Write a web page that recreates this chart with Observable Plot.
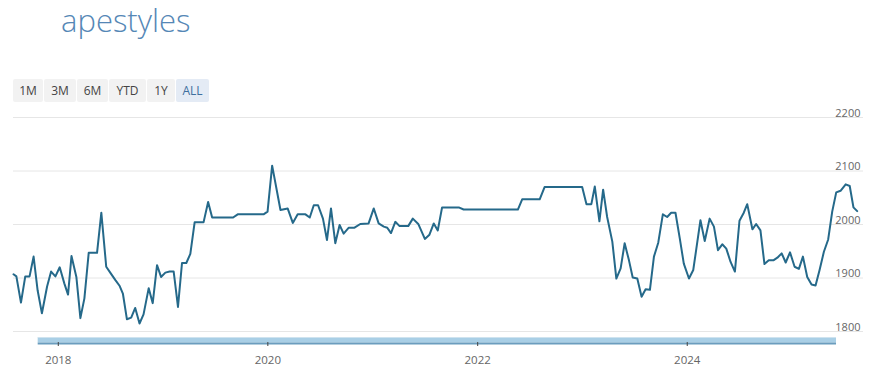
<!DOCTYPE html>
<html><head><meta charset="utf-8">
<script src="https://cdn.jsdelivr.net/npm/d3@7"></script>
<script src="https://cdn.jsdelivr.net/npm/@observablehq/plot@0.6"></script>
<style>
body{margin:0;background:#fff;font-family:"Open Sans",sans-serif;}
#head{position:relative;height:105px;width:880px;}
#title{position:absolute;left:61px;top:-1px;font-size:31px;line-height:42px;font-weight:300;color:#5587b6;white-space:nowrap;}
#btns{position:absolute;left:13px;top:79px;display:flex;}
.btn{height:23px;line-height:23px;font-size:12px;color:#444;background:#f2f2f2;text-align:center;margin-right:1px;border-radius:2px;}
.btn.sel{background:#e4ebf5;color:#3f6f9e;}
#chart svg{display:block;}
</style></head>
<body>
<div id="head">
  <div id="title">apestyles</div>
  <div id="btns"></div>
</div>
<div id="chart"></div>
<script>
const titleText = "apestyles";
const buttonLabels = ["1M","3M","6M","YTD","1Y","ALL"];
const buttonWidths = [30,32,31,37,28,33];
const selectedButton = "ALL";

const dates = [
"2017-07-29","2017-08-08","2017-08-24","2017-09-08","2017-09-23","2017-10-07","2017-10-21","2017-11-05","2017-11-23","2017-12-07",
"2017-12-22","2018-01-06","2018-01-22","2018-02-04","2018-02-16","2018-03-05","2018-03-19","2018-04-02","2018-04-17","2018-05-16",
"2018-05-31","2018-06-17","2018-07-01","2018-07-19","2018-08-03","2018-08-14","2018-08-28","2018-09-12","2018-09-26","2018-10-11",
"2018-10-25","2018-11-12","2018-11-26","2018-12-11","2018-12-25","2019-01-09","2019-01-24","2019-02-07","2019-02-22","2019-03-08",
"2019-03-23","2019-04-06","2019-04-21","2019-05-22","2019-06-07","2019-06-21","2019-09-02","2019-09-18","2019-12-17","2019-12-31",
"2020-01-16","2020-02-14","2020-03-10","2020-03-28","2020-04-14","2020-05-11","2020-05-26","2020-06-09","2020-06-24","2020-07-11",
"2020-07-25","2020-08-08","2020-08-23","2020-09-07","2020-09-21","2020-10-09","2020-10-29","2020-11-18","2020-12-17","2021-01-04",
"2021-01-21","2021-02-08","2021-02-20","2021-03-05","2021-03-20","2021-04-04","2021-05-04","2021-05-20","2021-06-08","2021-07-01",
"2021-07-17","2021-08-01","2021-08-15","2021-08-30","2021-10-27","2021-11-13","2022-05-21","2022-06-05","2022-08-05","2022-08-22",
"2022-12-31","2023-01-15","2023-02-01","2023-02-13","2023-03-01","2023-03-14","2023-03-28","2023-04-15","2023-04-29","2023-05-14",
"2023-05-28","2023-06-12","2023-06-25","2023-07-11","2023-07-26","2023-08-09","2023-08-24","2023-09-07","2023-09-22","2023-10-08",
"2023-10-23","2023-11-06","2023-11-21","2023-12-06","2023-12-20","2024-01-07","2024-01-22","2024-02-16","2024-03-02","2024-03-19",
"2024-04-03","2024-04-17","2024-05-02","2024-05-16","2024-05-31","2024-06-15","2024-07-01","2024-07-16","2024-07-28","2024-08-15",
"2024-08-28","2024-09-12","2024-09-26","2024-10-11","2024-10-27","2024-11-10","2024-11-25","2024-12-09","2024-12-24","2025-01-09",
"2025-01-24","2025-02-07","2025-02-22","2025-03-09","2025-03-23","2025-04-06","2025-04-21","2025-05-06","2025-05-20","2025-06-03",
"2025-06-18","2025-07-06","2025-07-20","2025-08-02","2025-08-15"
];
const values = [
1907,1903,1854,1903,1903,1940,1877,1834,1884,1912,
1903,1920,1890,1869,1941,1902,1825,1862,1947,1947,
2022,1921,1910,1896,1885,1871,1823,1826,1844,1815,
1832,1881,1853,1924,1902,1910,1912,1912,1846,1928,
1928,1945,2004,2004,2042,2013,2013,2019,2019,2024,
2110,2027,2030,2003,2019,2019,2013,2036,2036,2011,
1971,2030,1965,1999,1983,1994,1994,2001,2002,2030,
2002,1996,1994,1984,2005,1997,1997,2011,2001,1973,
1981,2002,1989,2032,2032,2028,2028,2047,2047,2070,
2070,2038,2038,2071,2006,2065,2014,1968,1899,1918,
1965,1933,1901,1899,1865,1879,1878,1940,1966,2019,
2014,2022,2022,1974,1927,1899,1915,2008,1969,2011,
1996,1952,1963,1955,1930,1912,2007,2022,2038,1991,
2001,1989,1926,1933,1933,1938,1946,1929,1948,1921,
1917,1940,1902,1888,1886,1915,1949,1972,2024,2060,
2063,2075,2072,2032,2025
];
const yTicks = [1800, 1900, 2000, 2100, 2200];
const xTicks = ["2018-01-01", "2020-01-01", "2022-01-01", "2024-01-01"];
const xDomain = ["2017-07-29", "2025-09-06"];
const navigatorRange = ["2017-10-23", "2025-06-04"];

// header
document.getElementById("title").textContent = titleText;
const btns = document.getElementById("btns");
buttonLabels.forEach((b, i) => {
  const el = document.createElement("div");
  el.className = "btn" + (b === selectedButton ? " sel" : "");
  el.style.width = buttonWidths[i] + "px";
  el.textContent = b;
  btns.appendChild(el);
});

const data = dates.map((d, i) => ({date: new Date(d), value: values[i]}));
const navStart = new Date(navigatorRange[0]);
const navEnd = new Date(navigatorRange[1]);

const chart = Plot.plot({
  width: 880,
  height: 271,
  marginLeft: 13,
  marginRight: 17,
  marginTop: 12,
  marginBottom: 45,
  style: {fontFamily: "'Open Sans', sans-serif", background: "transparent"},
  x: {type: "utc", domain: xDomain.map(d => new Date(d))},
  y: {domain: [1800, 2200], axis: null},
  marks: [
    Plot.ruleY(yTicks, {stroke: "#e6e6e6", strokeWidth: 1}),
    Plot.ruleY([1800], {x1: () => navStart, x2: () => navEnd, dy: 8.5, strokeWidth: 5, stroke: "#a9cfe6"}),
    Plot.ruleY([1800], {x1: () => navStart, x2: () => navEnd, dy: 12, strokeWidth: 2, stroke: "#6b9dbe"}),
    Plot.ruleY([1800], {x1: () => navStart, x2: () => navEnd, dy: 6, strokeWidth: 1, stroke: "#cfe3ef"}),
    Plot.axisX(xTicks.map(d => new Date(d)), {
      tickSize: 4, tickPadding: 9, dy: 11,
      tickFormat: d => String(d.getUTCFullYear()),
      stroke: "#444", fill: "#666", fontSize: 11.5, label: null
    }),
    Plot.line(data, {x: "date", y: "value", stroke: "#25698a", strokeWidth: 2, strokeLinejoin: "round"}),
    Plot.text(yTicks, {y: d => d, text: d => String(d), frameAnchor: "right", textAnchor: "end", lineAnchor: "bottom", dx: -3, dy: -1, fill: "#666", fontSize: 11})
  ]
});
document.getElementById("chart").appendChild(chart);
</script>
</body></html>
